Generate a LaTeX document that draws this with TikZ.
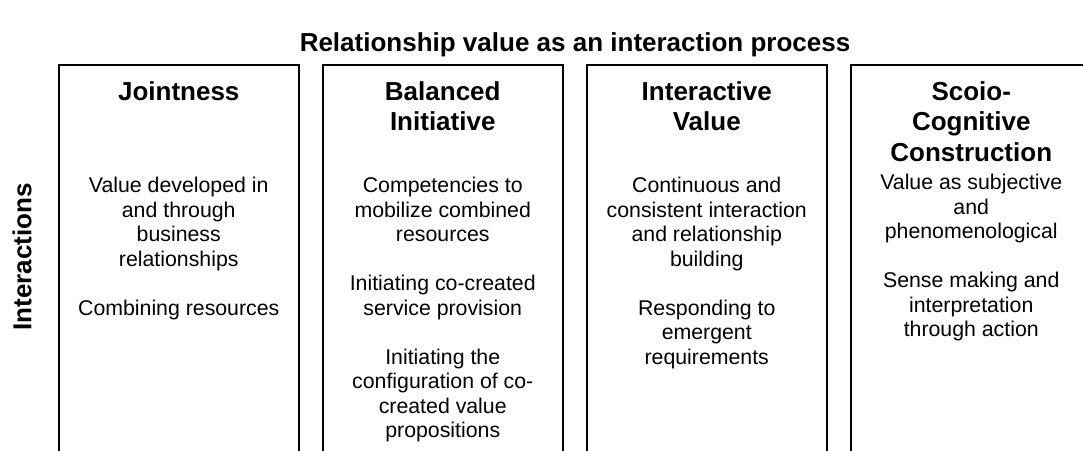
\documentclass[tikz,border=0pt]{standalone}
\usepackage{fontspec}
\setmainfont{Liberation Sans}
\usetikzlibrary{positioning}
\tikzset{
    column/.style= {shape=rectangle,draw,line width=2pt,minimum width=240.5pt,minimum height=400pt,inner sep=0,outer sep=0,anchor=north west},
    heading/.style= {font=\fontsize{26}{30.5}\selectfont\bfseries,align=center,inner sep=0,anchor=north},
    body/.style= {font=\fontsize{21.3}{24.5}\selectfont,align=center,inner sep=0,anchor=north}
}

\begin{document}
\begin{tikzpicture}[x=1pt,y=1pt]
    \useasboundingbox (0,0) rectangle (1083,450);
    \clip (0,0) rectangle (1083,450);

    \node[heading,anchor=center] (title) at (575,405) {Relationship value as an interaction process};
    \node[heading,anchor=center,rotate=90] (inter) at (22,193) {Interactions};

    \node[column] (joint) at (58.5,385) {};
    \node[column] (balance) at (322.5,385) {};
    \node[column] (interval) at (586.5,385) {};
    \node[column] (socio) at (851,385) {};

    \node[heading,below=16pt of joint.north] (jointhead) {Jointness};
    \node[heading,below=16pt of balance.north] (balancehead) {Balanced\\Initiative};
    \node[heading,below=16pt of interval.north] (intervalhead) {Interactive\\Value};
    \node[heading,below=16pt of socio.north] (sociohead) {Scoio-\\Cognitive\\Construction};

    \node[body,below=112pt of joint.north] (jointtext)
        {Value developed in\\and through\\business\\relationships\\[24.5pt]Combining resources};
    \node[body,below=112pt of balance.north] (balancetext)
        {Competencies to\\mobilize combined\\resources\\[24.5pt]Initiating co-created\\service provision\\[24.5pt]Initiating the\\configuration of co-\\created value\\propositions};
    \node[body,below=112pt of interval.north] (intervaltext)
        {Continuous and\\consistent interaction\\and relationship\\building\\[24.5pt]Responding to\\emergent\\requirements};
    \node[body,below=109pt of socio.north] (sociotext)
        {Value as subjective\\and\\phenomenological\\[24.5pt]Sense making and\\interpretation\\through action};
\end{tikzpicture}
\end{document}
